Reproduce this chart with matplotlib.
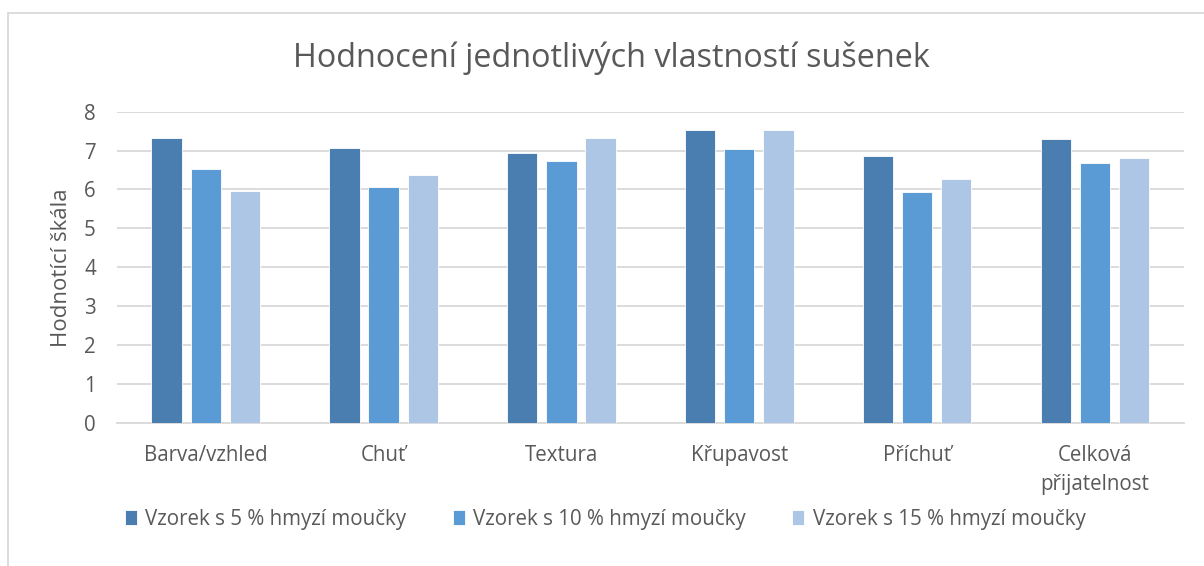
#!/usr/bin/env python3
"""Grouped bar chart: ratings of cookie properties for three insect-flour samples."""
import matplotlib
matplotlib.use("Agg")
import matplotlib.pyplot as plt
import numpy as np
from matplotlib.patches import Rectangle

categories = ["Barva/vzhled", "Chuť", "Textura", "Křupavost", "Příchuť",
              "Celková\npřijatelnost"]
series_names = ["Vzorek s 5 % hmyzí moučky",
                "Vzorek s 10 % hmyzí moučky",
                "Vzorek s 15 % hmyzí moučky"]
sample_5 = [7.33, 7.07, 6.93, 7.53, 6.87, 7.30]
sample_10 = [6.53, 6.07, 6.73, 7.03, 5.93, 6.67]
sample_15 = [5.97, 6.36, 7.33, 7.53, 6.27, 6.80]
y_ticks = [0, 1, 2, 3, 4, 5, 6, 7, 8]

COLORS = ["#4A7EB0", "#5B9BD5", "#ADC6E6"]
TEXT = "#595959"
GRID = "#D9D9D9"
FONT = ["Open Sans", "DejaVu Sans"]
W, H = 1204, 566
FS = 14.8

plt.rcParams["font.family"] = FONT

fig = plt.figure(figsize=(W / 100, H / 100), dpi=100)
ax = fig.add_axes([116.7 / W, 1 - 422.7 / H, (1184 - 116.7) / W, (422.7 - 111.7) / H])

# chart border (only top and left visible in the original crop)
fig.patches.append(Rectangle((8 / W, -0.2), 1.2, 1.2 - 13 / H,
                             transform=fig.transFigure, fill=False,
                             edgecolor=GRID, linewidth=1.3))

x = np.arange(len(categories))
bar_w = 0.17
step = 0.22
for i, (vals, name) in enumerate(zip([sample_5, sample_10, sample_15], series_names)):
    ax.bar(x + (i - 1) * step, vals, width=bar_w, color=COLORS[i],
           edgecolor="white", linewidth=0.6, label=name, zorder=3)

ax.set_xlim(-0.5, len(categories) - 0.5)
ax.set_ylim(0, 8)
ax.set_yticks(y_ticks)
ax.set_xticks(x)
ax.set_xticklabels(categories, linespacing=1.5)
ax.grid(axis="y", color=GRID, linewidth=1.3, zorder=0)
for side in ["top", "right", "left"]:
    ax.spines[side].set_visible(False)
ax.spines["bottom"].set_color(GRID)
ax.spines["bottom"].set_linewidth(1.3)
ax.tick_params(axis="both", length=0, labelsize=FS, labelcolor=TEXT)
ax.tick_params(axis="x", pad=16)
ax.tick_params(axis="y", pad=15)

ax.set_ylabel("Hodnotící škála", fontsize=16, color=TEXT, labelpad=9)
fig.text(611 / W, 1 - 58 / H, "Hodnocení jednotlivých vlastností sušenek",
         ha="center", va="center", fontsize=23.3, color=TEXT)

handles, labels = ax.get_legend_handles_labels()
fig.legend(handles, labels, loc="center", bbox_to_anchor=(605 / W, 1 - 519 / H),
           ncol=3, frameon=False, fontsize=FS, labelcolor=TEXT,
           handlelength=0.6, handleheight=0.75, handletextpad=0.4,
           columnspacing=2.25)

fig.savefig("out.png", dpi=100)
